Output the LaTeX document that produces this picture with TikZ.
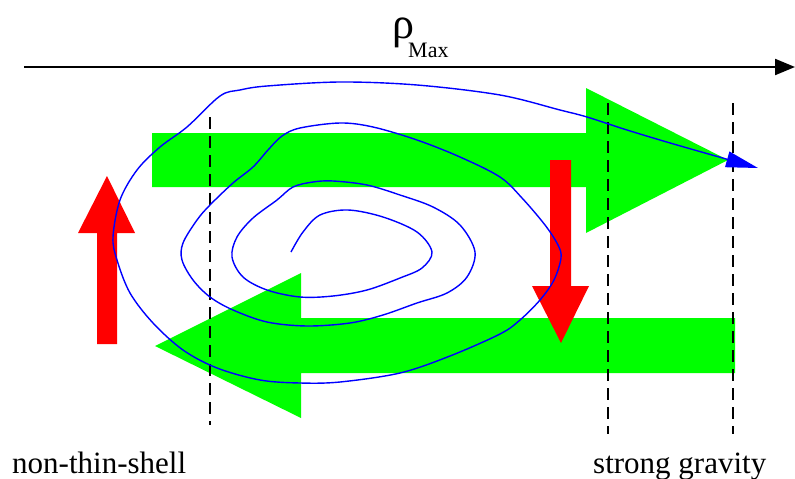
\documentclass[tikz,border=0pt]{standalone}
\usepackage{fontspec}
\setmainfont{Liberation Serif}
\usetikzlibrary{arrows.meta}
\definecolor{fgreen}{RGB}{0,255,0}
\definecolor{fred}{RGB}{255,0,0}
\definecolor{fblue}{RGB}{0,0,255}
\tikzset{
  bigarrowg/.style={fill=fgreen, draw=none},
  bigarrowr/.style={fill=fred, draw=none},
  guide/.style={draw=black, line width=1.4pt, dash pattern=on 12pt off 7pt},
  spiral/.style={draw=fblue, line width=1.4pt, -{Triangle[length=32pt,width=16pt]}},
  label/.style={inner sep=0pt, anchor=base west, font=\fontsize{31}{31}\selectfont}
}
\begin{document}
\begin{tikzpicture}[x=1pt,y=-1pt]
\useasboundingbox (0,0) rectangle (795,479);
% green arrows
\fill[bigarrowg] (152,133) -- (586,133) -- (586,88) -- (728,160) -- (586,233) -- (586,187) -- (152,187) -- cycle;
\fill[bigarrowg] (735,318) -- (301,318) -- (301,273) -- (155,346) -- (301,418) -- (301,373) -- (735,373) -- cycle;
% dashed guides
\coordinate (d1t) at (210,117); \coordinate (d1b) at (210,425);
\coordinate (d2t) at (608,103); \coordinate (d2b) at (608,434);
\coordinate (d3t) at (733,103); \coordinate (d3b) at (733,434);
\draw[guide] (d1t) -- (d1b);
\draw[guide] (d2t) -- (d2b);
\draw[guide] (d3t) -- (d3b);
% red arrows
\fill[bigarrowr] (97,344) -- (97,233) -- (78,233) -- (107,176) -- (135,233) -- (117,233) -- (117,344) -- cycle;
\fill[bigarrowr] (550,160) -- (571,160) -- (571,286) -- (589,286) -- (561,343) -- (532,286) -- (550,286) -- cycle;
% axis
\coordinate (axs) at (24,67);
\coordinate (axe) at (795,67);
\draw[line width=2.2pt, -{Triangle[length=20pt,width=16pt]}] (axs) -- (axe);
\node[inner sep=0pt, anchor=base west, font=\fontsize{44}{44}\selectfont] (rho) at (392,38) {ρ};
\node[inner sep=0pt, anchor=base west, font=\fontsize{22}{22}\selectfont] (max) at (408,57) {Max};
% spiral
\draw[spiral] plot[smooth, tension=0.55] coordinates {
(291,252) (303,232) (320,215) (348,210) (383,217) (417,232) (432,252)
(422,268) (400,278) (367,290) (333,296) (300,297) (267,290) (243,277)
(232,257) (237,237) (253,218) (277,200) (293,187) (313,182) (333,181)
(367,185) (400,195) (433,207) (460,225) (475,252) (467,277) (447,293)
(417,303) (383,315) (350,323) (307,326) (267,322) (233,310) (210,297)
(193,280) (182,260) (183,243) (197,220) (210,205) (233,183) (253,167)
(268,150) (282,136) (300,128) (340,123) (373,127) (417,140) (460,157)
(500,177) (522,198) (545,225) (558,245) (561,258) (554,280) (540,300)
(520,320) (500,334) (450,356) (400,373) (340,382) (300,383) (260,380)
(217,368) (183,350) (153,323) (130,293) (117,260) (113,237) (120,200)
(137,170) (160,147) (187,127) (220,96) (240,90) (267,86) (340,82)
(417,85) (500,95) (560,110) (587,117) (627,130) (677,145) (758,168)};
% labels
\node[label] (nts) at (12,473) {non-thin-shell};
\node[label] (sg) at (593,473) {strong gravity};
\end{tikzpicture}
\end{document}
